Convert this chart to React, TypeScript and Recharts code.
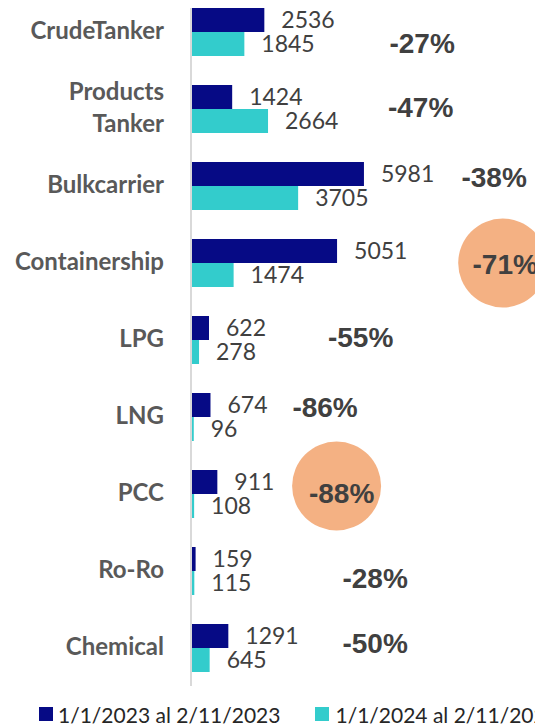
import React from 'react';
import { BarChart, Bar, XAxis, YAxis, LabelList, ReferenceDot } from 'recharts';

const categories = ['CrudeTanker', 'Products Tanker', 'Bulkcarrier', 'Containership', 'LPG', 'LNG', 'PCC', 'Ro-Ro', 'Chemical'];
const series2023 = [2536, 1424, 5981, 5051, 622, 674, 911, 159, 1291];
const series2024 = [1845, 2664, 3705, 1474, 278, 96, 108, 115, 645];
const changeLabels = ['-27%', '-47%', '-38%', '-71%', '-55%', '-86%', '-88%', '-28%', '-50%'];
const highlighted = [false, false, false, true, false, false, true, false, false];
const seriesNames = ['1/1/2023 al 2/11/2023', '1/1/2024 al 2/11/2024'];

// annotation placement: x in axis units, pixel nudges separately
const changeX = [7993, 7941, 10484, 10779, 5865, 4637, 5035, 6367, 6367];
const changeTextDx = [0, 0, 0, 2.5, 0, 0, 5, 0, 0];
const changeTextDy = [11.5, -2, -9, 1, -3, -10, -1, 7.5, -4.5];
const circleDy = [0, 0, 0, 0.5, 0, 0, -7.5, 0, 0];

const COLOR_A = '#060a85';
const COLOR_B = '#33cccc';
const CIRCLE = '#f4b183';

const data = categories.map((name, i) => ({ name, v2023: series2023[i], v2024: series2024[i] }));

const CategoryTick = (props: any) => {
  const { x, y, payload } = props;
  const words = String(payload.value).split(' ');
  const fs = 24;
  const lines = words.length > 1 ? [-17, 15] : [-1];
  return (
    <g>
      {words.map((w, i) => (
        <text
          key={i}
          x={x - 27}
          y={y + lines[i] + fs * 0.36}
          textAnchor="end"
          fill="#595959"
          fontFamily="Lato"
          fontWeight={700}
          fontSize={fs}
        >
          {w}
        </text>
      ))}
    </g>
  );
};

const Annotation = (props: any) => {
  const { cx, cy, idx } = props;
  if (cx == null || cy == null) return null;
  const fs = 28;
  return (
    <g>
      {highlighted[idx] && <circle cx={cx} cy={cy + circleDy[idx]} r={44.5} fill={CIRCLE} />}
      <text
        x={cx + changeTextDx[idx]}
        y={cy + changeTextDy[idx] + fs * 0.358}
        textAnchor="middle"
        fill="#404040"
        fontFamily="Liberation Sans"
        fontWeight={700}
        fontSize={fs}
      >
        {changeLabels[idx]}
      </text>
    </g>
  );
};

export default function App() {
  return (
    <div style={{ position: 'relative', width: 535, height: 719, overflow: 'hidden' }}>
      <div style={{ position: 'absolute', top: -15.5, left: 0 }}>
        <BarChart
          width={535}
          height={693}
          data={data}
          layout="vertical"
          margin={{ top: 0, right: 5, left: 0, bottom: 0 }}
          barGap={0}
        >
          <XAxis type="number" domain={[0, 12000]} hide />
          <YAxis
            type="category"
            dataKey="name"
            width={183}
            tickLine={false}
            tickSize={0}
            tickMargin={0}
            interval={0}
            axisLine={{ stroke: '#d9d9d9', strokeWidth: 2 }}
            tick={<CategoryTick />}
          />
          <Bar dataKey="v2023" fill={COLOR_A} barSize={24} isAnimationActive={false}>
            <LabelList dataKey="v2023" position="right" offset={17} fill="#404040" fontFamily="Lato" fontSize={23} />
          </Bar>
          <Bar dataKey="v2024" fill={COLOR_B} barSize={24} isAnimationActive={false}>
            <LabelList dataKey="v2024" position="right" offset={17} fill="#404040" fontFamily="Lato" fontSize={23} />
          </Bar>
          {categories.map((name, i) => (
            <ReferenceDot
              key={name}
              x={changeX[i]}
              y={name}
              r={0}
              ifOverflow="visible"
              shape={(p: any) => <Annotation {...p} idx={i} />}
            />
          ))}
        </BarChart>
      </div>
      <div
        style={{
          position: 'absolute',
          top: 694,
          left: 0,
          height: 24,
          display: 'flex',
          alignItems: 'center',
          whiteSpace: 'nowrap',
          fontFamily: 'Lato',
          fontSize: 21,
          color: '#262626',
        }}
      >
        <span style={{ display: 'inline-block', width: 14, height: 14, background: COLOR_A, marginLeft: 31, marginRight: 5 }} />
        <span>{seriesNames[0]}</span>
        <span style={{ display: 'inline-block', width: 14, height: 14, background: COLOR_B, marginLeft: 35, marginRight: 6 }} />
        <span>{seriesNames[1]}</span>
      </div>
    </div>
  );
}
